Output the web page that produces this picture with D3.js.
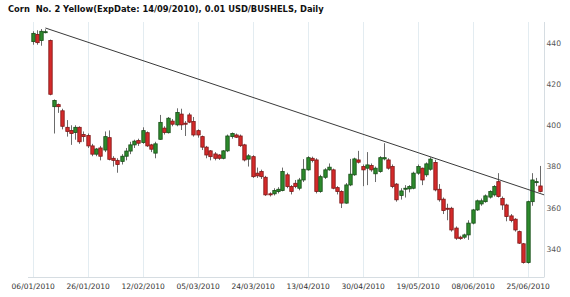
<!DOCTYPE html>
<html>
<head>
<meta charset="utf-8">
<script src="https://cdn.jsdelivr.net/npm/d3@7"></script>
<style>
  body { margin: 0; background: #fff; }
  svg { display: block; }
</style>
</head>
<body>
<div id="chart"></div>
<script>
// Corn No. 2 Yellow daily candles, 121 trading days from 06/01/2010
const opens = [440.5,444,441,445,441,409,410,407,399,397.5,396.5,399,395.5,395,390,386,389,388,394,384,383,382.5,385,387.5,390.5,392.6,391.6,396.4,390.5,386.5,
  393.2,398.6,396.4,402,400.2,405.4,401,405,401.8,397.4,394.5,389.4,387.6,386.1,385.6,384,387.6,394.5,395.3,394.8,390.5,383.6,384.8,376.8,377.6,374.8,366.8,366.8,367.9,368.4,
  376,370.3,371.9,369.5,373.5,378.4,384,383.2,367.9,374.8,378.4,378.4,369.8,367.9,362.3,371.1,376,383.2,380,379.2,380.5,376.5,377.6,383.7,383.2,380,371.5,366,369.5,369.2,
  369.5,376.8,379.2,376,378.7,382,369,364.2,359.8,359.8,350.2,345.8,345.8,346.9,352.6,359,361.9,363,365.2,366.3,372.7,364.6,361.4,356.1,354.5,348.5,342.6,333.5,363,372.7,370.6];
const closes = [444.5,440,445.5,445.3,415,412,409,399.5,397,396,399,392,394.5,390,386,388.5,385,394.5,383.5,383,381,385,387.5,390.5,392.3,391.3,397.4,390,388.4,391,
  401.4,396.5,403.4,400.5,406.2,400.2,400.5,401.5,395.3,395.3,389.4,385.6,384.8,384,384,387.6,394.8,396,394.2,390.1,383.2,385.2,375.1,375.5,375.1,366.3,366.3,368.4,369,377.6,
  370.3,367.9,370.3,373.5,378.7,384.3,382.9,367.9,375.1,378.4,379.7,369.5,367.9,362.3,371.1,376.3,383.7,382.1,378.4,380.8,378.4,379.2,384.3,384.3,379.2,370.3,363.9,368.2,369.5,370.3,
  376.8,380,373.5,381.3,383.6,368.7,363.9,358.7,359.4,349.3,345.3,345.1,346.9,352.6,359,363.4,363.4,365.8,367.9,370.3,365.5,361.4,355.8,353.9,349.3,342.9,333.5,363,373.5,372.7,367.9];
const highs = [445.5,446,446.6,446.5,441.5,412.5,410.5,408,402.5,400,400,399.5,397,396,391,389,390,397,397.5,385,384,386,389,392,393,393.5,399,397,391,392,
  405,399.5,404,403,408.2,408,402,406,404,398,395,390,388,387,386,388,395.5,396.5,396,395.5,391,386,385.5,379.5,378.5,375.5,367.5,369.5,370,379.5,
  377,371,373.5,374.5,383.6,385,384.8,384,376,379.2,381.5,379,370.5,368.5,372,383.7,384.3,387.6,381,387,381.5,380,385,391.3,384,381,372,369.5,371,371,
  377.5,381,379.5,382,384.5,383.3,371.5,365,362,360.5,351,346.5,347.5,354,359.5,364,364.5,366.5,368.5,371,376.8,365.5,362,357,355,349,343,363.5,376.8,374.5,380.3];
const lows = [439,439,438.5,444.5,414.5,396,406,398,394.5,390.5,393,391,392,389,385,385,383,387,383,380,377,381,383,386,389,390,391,389.5,387,384,
  393,395.5,396,399.5,399.5,397.7,394.8,401,394.5,394,388,384,383,383,383.2,383.5,387,393.5,393.8,389.5,382.5,380,374.5,374.5,374,365.8,365.5,366,367,368,
  369.5,366.5,369.5,368.5,372.5,378,382,367,367.3,374,378,369,366.5,359.9,362,370.5,375.5,381.5,370.5,371,377.5,372.5,377,383,378.5,369.5,363,364,365,367.5,
  369,376,371,375,378,368,363,357,354,348.5,344.5,344.5,345,344.5,352,358.5,361,362.5,364.5,365.5,365,359,353.5,353,348.5,342.5,333,333,361,370.5,367.5];

const tickLabels = ["06/01/2010","26/01/2010","12/02/2010","05/03/2010","24/03/2010",
  "13/04/2010","30/04/2010","19/05/2010","08/06/2010","25/06/2010"];
const labelEvery = 13;
const yTicks = [340, 360, 380, 400, 420, 440];

// resistance line drawn on the chart (bar index, price)
const trendIdx = [3, 120.9];
const trendVal = [447.1, 366.3];

const titleHead = "Corn  No. 2 Yellow(ExpDate: 14/09/2010), 0.01 USD/BUSHELS,";
const titleTail = " Daily";

const width = 570, height = 297;
const plot = { left: 28, right: 544, top: 22, bottom: 277 };

const candles = opens.map((o, i) => ({ i: i, o: o, c: closes[i], h: highs[i], l: lows[i] }));

const x = d3.scaleLinear()
  .domain([0, candles.length - 1])
  .range([32.7, 540.3]);

const y = d3.scaleLinear()
  .domain([327, 450])
  .range([276, 22]);

const svg = d3.select("#chart").append("svg")
  .attr("width", width)
  .attr("height", height)
  .style("font-family", "'DejaVu Sans', Verdana, sans-serif");

const titleText = svg.append("text")
  .attr("x", 8)
  .attr("y", 11.5)
  .style("font-size", "10px")
  .style("white-space", "pre")
  .attr("font-weight", "bold")
  .attr("fill", "#111")
  .text(titleHead);

// in the original "...BUSHELS," ends near x=297
const tw = titleText.node().getComputedTextLength();
titleText.style("font-size", (10 * 289 / tw).toFixed(2) + "px")
  .text(titleHead + titleTail);

// vertical grid at labelled days
const tickIdx = tickLabels.map((d, k) => k * labelEvery);
svg.append("g")
  .selectAll("line")
  .data(tickIdx)
  .join("line")
  .attr("x1", d => Math.round(x(d)) + 0.5)
  .attr("x2", d => Math.round(x(d)) + 0.5)
  .attr("y1", plot.top)
  .attr("y2", plot.bottom)
  .attr("stroke", "#e3ecf1")
  .attr("stroke-width", 1);

// frame: right and bottom
svg.append("line")
  .attr("x1", plot.right + 0.5).attr("x2", plot.right + 0.5)
  .attr("y1", plot.top).attr("y2", plot.bottom)
  .attr("stroke", "#d6dde2");
svg.append("line")
  .attr("x1", plot.left).attr("x2", plot.right + 0.5)
  .attr("y1", plot.bottom + 0.5).attr("y2", plot.bottom + 0.5)
  .attr("stroke", "#d6dde2");

// x labels
const xAxis = d3.axisBottom(x)
  .tickValues(tickIdx)
  .tickFormat((d, k) => tickLabels[k])
  .tickSize(0)
  .tickPadding(6.5);

svg.append("g")
  .attr("transform", `translate(0,${plot.bottom})`)
  .call(xAxis)
  .call(g => g.select(".domain").remove())
  .selectAll("text")
  .attr("font-size", 7.5)
  .attr("font-family", "'DejaVu Sans', Verdana, sans-serif")
  .attr("fill", "#333");

// y labels on the right
const yAxis = d3.axisRight(y)
  .tickValues(yTicks)
  .tickSize(0)
  .tickPadding(2.5);

svg.append("g")
  .attr("transform", `translate(${plot.right},0)`)
  .call(yAxis)
  .call(g => g.select(".domain").remove())
  .selectAll("text")
  .attr("font-size", 7.6)
  .attr("font-family", "'DejaVu Sans', Verdana, sans-serif")
  .attr("fill", "#555");

// candles
const up = { fill: "#2c8a2c", stroke: "#174d17" };
const down = { fill: "#d42a2a", stroke: "#7d1717" };

const g = svg.append("g");

g.selectAll("line.wick")
  .data(candles)
  .join("line")
  .attr("class", "wick")
  .attr("x1", d => Math.round(x(d.i)) + 0.5)
  .attr("x2", d => Math.round(x(d.i)) + 0.5)
  .attr("y1", d => y(d.h))
  .attr("y2", d => y(d.l))
  .attr("stroke", "#6b6b6b")
  .attr("stroke-width", 1);

g.selectAll("rect.body")
  .data(candles)
  .join("rect")
  .attr("class", "body")
  .attr("x", d => Math.round(x(d.i)) - 1.2)
  .attr("width", 3.4)
  .attr("y", d => y(Math.max(d.o, d.c)))
  .attr("height", d => Math.max(1, Math.abs(y(d.o) - y(d.c))))
  .attr("fill", d => d.c >= d.o ? up.fill : down.fill)
  .attr("stroke", d => d.c >= d.o ? up.stroke : down.stroke)
  .attr("stroke-width", 0.8);

// trend line
svg.append("line")
  .attr("x1", x(trendIdx[0]))
  .attr("y1", y(trendVal[0]))
  .attr("x2", x(trendIdx[1]))
  .attr("y2", y(trendVal[1]))
  .attr("stroke", "#3a3a3a")
  .attr("stroke-width", 1);
</script>
</body>
</html>
